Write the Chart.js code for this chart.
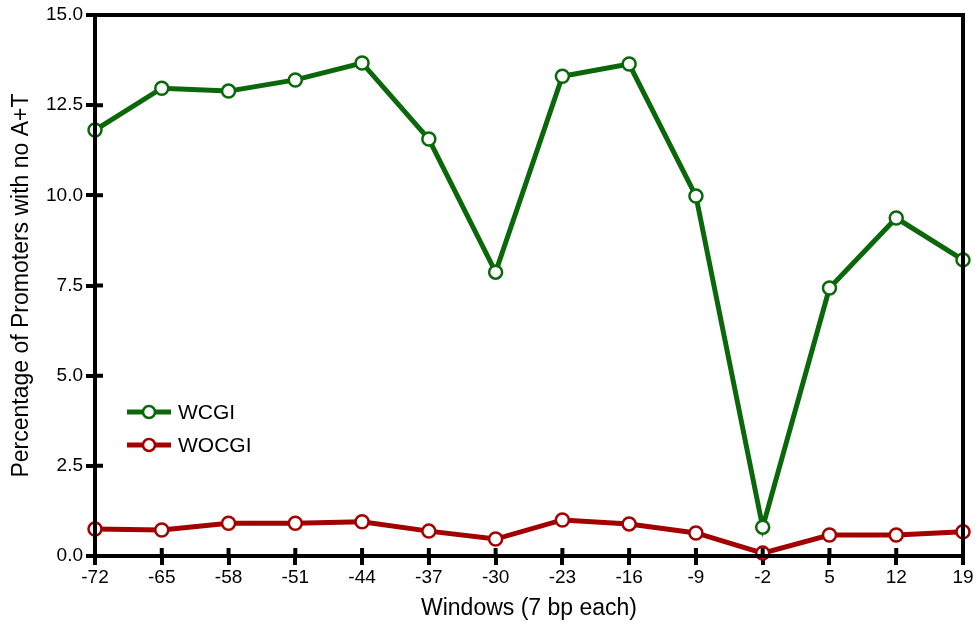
<!DOCTYPE html>
<html>
<head>
<meta charset="utf-8">
<script src="https://cdn.jsdelivr.net/npm/chart.js@4.4.1/dist/chart.umd.min.js"></script>
<style>
  html, body { margin: 0; padding: 0; background: #fff; }
  #wrap { width: 979px; height: 626px; }
</style>
</head>
<body>
<div id="wrap"><canvas id="promoterChart"></canvas></div>
<script>
// windows (7 bp each)
const windows = ['-72', '-65', '-58', '-51', '-44', '-37', '-30', '-23', '-16', '-9', '-2', '5', '12', '19'];
const wcgi = [11.81, 12.97, 12.89, 13.2, 13.67, 11.56, 7.87, 13.3, 13.64, 9.98, 0.8, 7.43, 9.37, 8.21];
const wocgi = [0.75, 0.72, 0.91, 0.91, 0.95, 0.69, 0.47, 1.0, 0.89, 0.64, 0.08, 0.58, 0.58, 0.67];
const seriesNames = ['WCGI', 'WOCGI'];

const green = '#0a680a';
const red = '#a30000';
const font = 'Arial, "Liberation Sans", sans-serif';

// frame + tick marks crossing into the plot, drawn on top of the data
const framePlugin = {
    id: 'frame',
    afterDatasetsDraw(chart) {
        const { ctx, chartArea: a, scales } = chart;
        ctx.save();
        ctx.strokeStyle = '#000';
        ctx.lineWidth = 4;
        ctx.strokeRect(a.left, a.top, a.right - a.left, a.bottom - a.top);
        ctx.beginPath();
        scales.x.ticks.forEach((t, i) => {
            const x = scales.x.getPixelForTick(i);
            ctx.moveTo(x, a.bottom);
            ctx.lineTo(x, a.bottom - 8);
        });
        scales.y.ticks.forEach((t, i) => {
            const y = scales.y.getPixelForTick(i);
            ctx.moveTo(a.left, y);
            ctx.lineTo(a.left + 8, y);
        });
        ctx.stroke();
        ctx.restore();
    }
};

// legend inside the plot area, lower left
const legendPlugin = {
    id: 'insideLegend',
    afterDraw(chart) {
        const { ctx } = chart;
        ctx.save();
        chart.data.datasets.forEach((ds, i) => {
            const y = 412 + i * 33;
            ctx.strokeStyle = ds.borderColor;
            ctx.lineWidth = 5;
            ctx.beginPath();
            ctx.moveTo(127, y);
            ctx.lineTo(171, y);
            ctx.stroke();
            ctx.beginPath();
            ctx.arc(149, y, 6, 0, Math.PI * 2);
            ctx.fillStyle = '#fff';
            ctx.fill();
            ctx.lineWidth = 2.5;
            ctx.stroke();
            ctx.fillStyle = '#000';
            ctx.font = '21px ' + font;
            ctx.textBaseline = 'middle';
            ctx.fillText(ds.label, 178, y + 1);
        });
        ctx.restore();
    }
};

const common = {
    backgroundColor: '#fff',
    pointBackgroundColor: '#fff',
    borderWidth: 5,
    pointRadius: 6.5,
    pointBorderWidth: 2.5,
    tension: 0,
    clip: false
};

new Chart(document.getElementById('promoterChart'), {
    type: 'line',
    data: {
        labels: windows,
        datasets: [
            Object.assign({ label: seriesNames[0], data: wcgi, borderColor: green }, common),
            Object.assign({ label: seriesNames[1], data: wocgi, borderColor: red }, common)
        ]
    },
    options: {
        responsive: true,
        maintainAspectRatio: false,
        animation: false,
        layout: { padding: { left: 0, top: 15, right: 16, bottom: 0 } },
        plugins: {
            legend: { display: false },
            tooltip: { enabled: false }
        },
        scales: {
            x: {
                offset: false,
                afterFit(scale) { scale.height = 70; },
                grid: { drawOnChartArea: false, drawTicks: true, tickLength: 9, color: '#000', lineWidth: 4 },
                border: { display: true, color: '#000', width: 4 },
                ticks: { color: '#000', font: { family: font, size: 19 }, padding: 1, maxRotation: 0 },
                title: {
                    display: true,
                    text: 'Windows (7 bp each)',
                    color: '#000',
                    font: { family: font, size: 23 },
                    padding: { top: 0, bottom: 4 }
                }
            },
            y: {
                min: 0,
                max: 15,
                afterFit(scale) { scale.width = 95; },
                grid: { drawOnChartArea: false, drawTicks: true, tickLength: 9, color: '#000', lineWidth: 4 },
                border: { display: true, color: '#000', width: 4 },
                ticks: {
                    stepSize: 2.5,
                    color: '#000',
                    font: { family: font, size: 19 },
                    padding: 3,
                    callback: v => v.toFixed(1)
                },
                title: {
                    display: true,
                    text: 'Percentage of Promoters with no A+T',
                    color: '#000',
                    font: { family: font, size: 23 },
                    padding: { top: 8, bottom: 0 }
                }
            }
        }
    },
    plugins: [framePlugin, legendPlugin]
});
</script>
</body>
</html>
